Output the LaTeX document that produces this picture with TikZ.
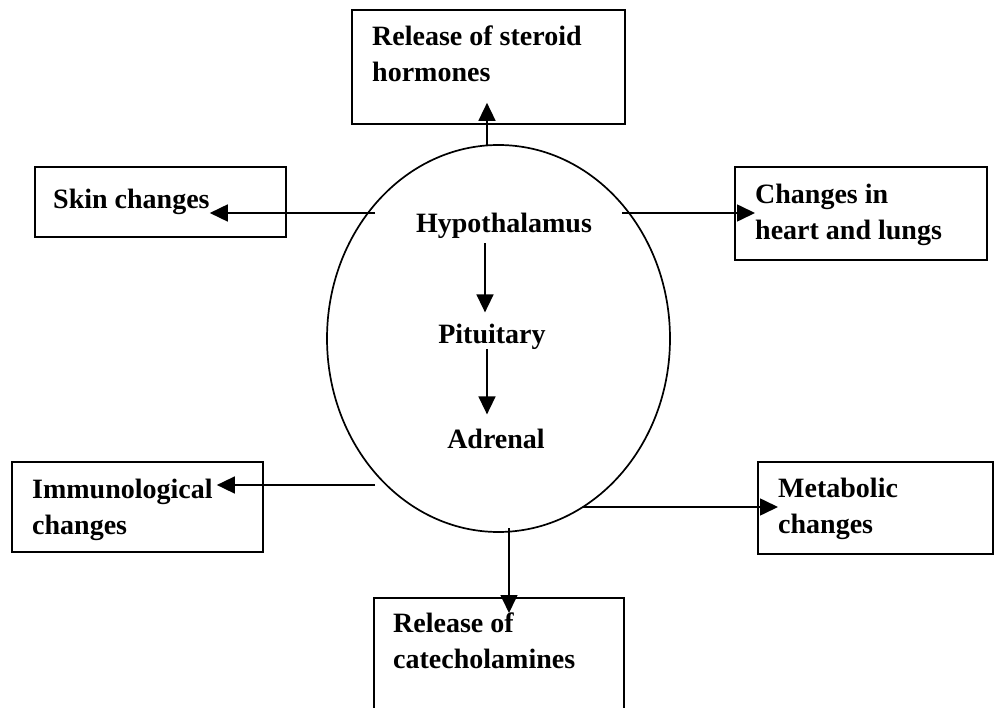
\documentclass[tikz,border=0pt]{standalone}
\usepackage{fontspec}
\setmainfont{Liberation Serif}
\usepackage{tikz}
\usetikzlibrary{shapes.geometric, arrows.meta}

\begin{document}
\begin{tikzpicture}[
    x=1pt, y=-1pt,
    box/.style={draw, line width=1.7pt, inner sep=0pt},
    lbl/.style={inner sep=0pt, align=left, font=\fontsize{28}{36}\selectfont\bfseries},
    arr/.style={-{Triangle[length=18pt, width=17pt]}, line width=1.6pt}
  ]
  \useasboundingbox (0,0) rectangle (995,708);
  \clip (0,0) rectangle (995,708);

  % gland
  \node[draw, ellipse, line width=1.7pt, inner sep=0pt,
        minimum width=343pt, minimum height=387pt] (gland) at (498.5,338.5) {};
  \node[lbl, anchor=base] (hyp) at (504,233) {Hypothalamus};
  \node[lbl, anchor=base] (pit) at (492,343) {Pituitary};
  \node[lbl, anchor=base] (adr) at (496,448) {Adrenal};
  \draw[arr, shorten <=4pt, shorten >=11pt] ([xshift=-19pt]hyp.south) -- ([xshift=-19pt]hyp.south |- pit.north);
  \draw[arr, shorten <=0pt, shorten >=14pt] ([xshift=-5pt]pit.south) -- ([xshift=-5pt]pit.south |- adr.north);

  % boxes
  \node[box, minimum width=273pt, minimum height=114pt] (steroidbox) at (488.5,67) {};
  \node[box, minimum width=251pt, minimum height=70pt]  (skinbox)    at (160.5,202) {};
  \node[box, minimum width=252pt, minimum height=93pt]  (heartbox)   at (861,213.5) {};
  \node[box, minimum width=251pt, minimum height=90pt]  (immunobox)  at (137.5,507) {};
  \node[box, minimum width=235pt, minimum height=92pt]  (metabox)    at (875.5,508) {};
  \node[box, minimum width=250pt, minimum height=142pt] (catbox)     at (499,669) {};

  % labels
  \node[lbl, anchor=north west] (steroid)   at (372,26)  {Release of steroid\\hormones};
  \node[lbl, anchor=north west] (skin)      at (53,189)  {Skin changes};
  \node[lbl, anchor=north west] (heart)     at (755,184) {Changes in\\heart and lungs};
  \node[lbl, anchor=north west] (immuno)    at (32,479)  {Immunological\\changes};
  \node[lbl, anchor=north west] (metabolic) at (778,478) {Metabolic\\changes};
  \node[lbl, anchor=north west] (catechol)  at (393,613) {Release of\\catecholamines};

  % effects
  \coordinate (topstart)    at (487,145);
  \coordinate (skinstart)   at (375,213);
  \coordinate (heartstart)  at (622,213);
  \coordinate (immunostart) at (375,485);
  \coordinate (metastart)   at (583,507);
  \coordinate (catstart)    at (509,528);
  \draw[arr] (topstart) -- ([yshift=22pt]topstart |- steroidbox.south);
  \draw[arr] (skinstart) -- (skinstart -| skin.east);
  \draw[arr] (heartstart) -- (heartstart -| heart.west);
  \draw[arr] (immunostart) -- ([xshift=4pt]immunostart -| immuno.east);
  \draw[arr] (metastart) -- (metastart -| metabolic.west);
  \draw[arr] (catstart) -- (catstart |- catechol.north);
\end{tikzpicture}
\end{document}
